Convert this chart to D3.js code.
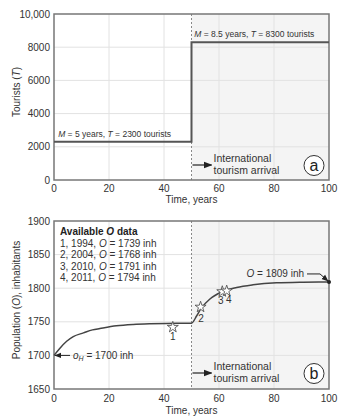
<!DOCTYPE html>
<html>
<head>
<meta charset="utf-8">
<script src="https://cdn.jsdelivr.net/npm/d3@7"></script>
<style>
  body { margin: 0; background: #fff; }
  svg { display: block; font-family: "Liberation Sans", Arial, sans-serif; }
</style>
</head>
<body>
<div id="chart"></div>
<script>
// panel (a): tourists
const tourTime = [0, 50, 50, 100];
const tourValue = [2300, 2300, 8300, 8300];
const tourTicks = [0, 2000, 4000, 6000, 8000, 10000];

// panel (b): population curve
const popTime = [0, 2, 4.6, 7, 10.7, 14, 16.7, 22.7, 28.8, 35, 40.9, 50, 51.9, 53.5, 56.7, 60.7, 66.4, 72.4, 80.9, 90.6, 100];
const popValue = [1700, 1710, 1721, 1728, 1733.5, 1738, 1740, 1744, 1746, 1747, 1747.5, 1748, 1759, 1770, 1784, 1794, 1801, 1805, 1808, 1809, 1809.3];
const popTicks = [1650, 1700, 1750, 1800, 1850, 1900];

// observed O data (stars)
const obsTime = [43.2, 53.3, 61.2, 62.8];
const obsValue = [1742, 1772, 1795, 1796];
const obsLabel = ['1', '2', '3', '4'];
const legendRows = [
  ['1, 1994, ', '1739'],
  ['2, 2004, ', '1768'],
  ['3, 2010, ', '1791'],
  ['4, 2011, ', '1794']
];

const xTicks = [0, 20, 40, 60, 80, 100];
const arrival = 50;

const W = 338, H = 416;
const textCol = '#333', gridCol = '#e2e2e2', frameCol = '#777', lineCol = '#444';

const svg = d3.select('#chart').append('svg')
  .attr('width', W).attr('height', H);

const defs = svg.append('defs');
defs.append('marker')
  .attr('id', 'arr')
  .attr('viewBox', '0 0 10 10')
  .attr('refX', 9).attr('refY', 5)
  .attr('markerWidth', 7).attr('markerHeight', 7)
  .attr('orient', 'auto-start-reverse')
  .append('path')
  .attr('d', 'M0,1 L10,5 L0,9 z')
  .attr('fill', '#222');

const x = d3.scaleLinear().domain([0, 100]).range([54, 329]);

function panel(opts) {
  const y = opts.y;
  const g = svg.append('g');
  const [y0, y1] = y.range();

  // shaded area after arrival
  g.append('rect')
    .attr('x', x(arrival)).attr('y', y1)
    .attr('width', x(100) - x(arrival)).attr('height', y0 - y1)
    .attr('fill', '#f4f4f4');

  // grid
  g.selectAll('.gx').data(xTicks.slice(1, -1)).join('line')
    .attr('x1', d => x(d)).attr('x2', d => x(d))
    .attr('y1', y1).attr('y2', y0)
    .attr('stroke', gridCol).attr('stroke-width', 1);
  g.selectAll('.gy').data(opts.ticks.slice(1, -1)).join('line')
    .attr('x1', x(0)).attr('x2', x(100))
    .attr('y1', d => y(d)).attr('y2', d => y(d))
    .attr('stroke', gridCol).attr('stroke-width', 1);

  // dashed arrival line
  g.append('line')
    .attr('x1', x(arrival)).attr('x2', x(arrival))
    .attr('y1', y1).attr('y2', y0)
    .attr('stroke', '#888').attr('stroke-dasharray', '2,2');

  // frame
  g.append('rect')
    .attr('x', x(0)).attr('y', y1)
    .attr('width', x(100) - x(0)).attr('height', y0 - y1)
    .attr('fill', 'none').attr('stroke', frameCol).attr('stroke-width', 1.5);

  // tick labels
  g.selectAll('.tx').data(xTicks).join('text')
    .attr('x', d => x(d)).attr('y', y0 + opts.xLabDy)
    .attr('text-anchor', 'middle').attr('font-size', 10).attr('fill', textCol)
    .text(d => d);
  g.selectAll('.ty').data(opts.ticks).join('text')
    .attr('x', x(0) - 4).attr('y', d => y(d) + 3.5)
    .attr('text-anchor', 'end').attr('font-size', 10).attr('fill', textCol)
    .text(opts.fmt);

  // axis titles
  g.append('text')
    .attr('x', (x(0) + x(100)) / 2).attr('y', opts.xTitleY)
    .attr('text-anchor', 'middle').attr('font-size', 10).attr('fill', textCol)
    .text('Time, years');
  const yt = g.append('text')
    .attr('transform', `translate(20,${opts.yTitleC}) rotate(-90)`)
    .attr('text-anchor', 'middle').attr('font-size', 10).attr('fill', textCol);
  opts.yTitle(yt);

  // arrival annotation
  const ay = opts.arrY;
  g.append('line')
    .attr('x1', x(arrival) + 1).attr('x2', x(arrival) + 20)
    .attr('y1', ay).attr('y2', ay)
    .attr('stroke', '#222').attr('stroke-width', 1.2)
    .attr('marker-end', 'url(#arr)');
  const at = g.append('text').attr('font-size', 10.5).attr('fill', textCol);
  at.append('tspan').attr('x', x(arrival) + 22).attr('y', ay - 3).text('International');
  at.append('tspan').attr('x', x(arrival) + 22).attr('y', ay + 9).text('tourism arrival');

  // panel letter
  g.append('circle')
    .attr('cx', 314).attr('cy', ay + 0.5).attr('r', 10)
    .attr('fill', '#fff').attr('stroke', '#333').attr('stroke-width', 1);
  g.append('text')
    .attr('x', 314).attr('y', ay + 6)
    .attr('text-anchor', 'middle').attr('font-size', 16).attr('fill', '#222')
    .text(opts.letter);

  return g;
}

// ---- panel a ----
const ya = d3.scaleLinear().domain([0, 10000]).range([180, 14]);
const ga = panel({
  y: ya, ticks: tourTicks, fmt: d => d === 10000 ? '10,000' : d,
  xLabDy: 12, xTitleY: 203, yTitleC: 92, arrY: 165, letter: 'a',
  yTitle: t => { t.append('tspan').text('Tourists ('); t.append('tspan').attr('font-style', 'italic').text('T'); t.append('tspan').text(')'); }
});

const lineA = d3.line().x(d => x(d[0])).y(d => ya(d[1]));
ga.append('path')
  .datum(d3.zip(tourTime, tourValue))
  .attr('d', lineA)
  .attr('fill', 'none').attr('stroke', '#555').attr('stroke-width', 2);

function mtLabel(g, px, py, m, t) {
  const tx = g.append('text').attr('x', px).attr('y', py).attr('font-size', 8.5).attr('fill', textCol);
  tx.append('tspan').attr('font-style', 'italic').text('M');
  tx.append('tspan').text(` = ${m} years, `);
  tx.append('tspan').attr('font-style', 'italic').text('T');
  tx.append('tspan').text(` = ${t} tourists`);
}
mtLabel(ga, x(1.5), ya(tourValue[0]) - 4.5, 5, tourValue[0]);
mtLabel(ga, x(51), ya(tourValue[2]) - 5, 8.5, tourValue[2]);

// ---- panel b ----
const yb = d3.scaleLinear().domain([1650, 1900]).range([389, 221]);
const gb = panel({
  y: yb, ticks: popTicks, fmt: d => d,
  xLabDy: 13, xTitleY: 414, yTitleC: 300, arrY: 373, letter: 'b',
  yTitle: t => { t.append('tspan').text('Population ('); t.append('tspan').attr('font-style', 'italic').text('O'); t.append('tspan').text('), inhabitants'); }
});

const lineB = d3.line().x(d => x(d[0])).y(d => yb(d[1])).curve(d3.curveMonotoneX);
gb.append('path')
  .datum(d3.zip(popTime, popValue))
  .attr('d', lineB)
  .attr('fill', 'none').attr('stroke', lineCol).attr('stroke-width', 1.5);

// end dot
const last = popTime.length - 1;
gb.append('circle')
  .attr('cx', x(popTime[last])).attr('cy', yb(popValue[last])).attr('r', 2)
  .attr('fill', '#222');

// O = 1809 annotation
const ex = x(popTime[last]), ey = yb(popValue[last]);
gb.append('path')
  .attr('d', `M${ex - 22},${ey - 8} L${ex - 9},${ey - 8} L${ex - 1},${ey - 1}`)
  .attr('fill', 'none').attr('stroke', '#222').attr('stroke-width', 1)
  .attr('marker-end', 'url(#arr)');
const et = gb.append('text').attr('x', ex - 25).attr('y', ey - 5)
  .attr('text-anchor', 'end').attr('font-size', 10).attr('fill', textCol);
et.append('tspan').attr('font-style', 'italic').text('O');
et.append('tspan').text(' = 1809 inh');

// oH annotation
const sx = x(popTime[0]), sy = yb(popValue[0]);
gb.append('line')
  .attr('x1', sx + 16).attr('x2', sx + 1).attr('y1', sy).attr('y2', sy)
  .attr('stroke', '#222').attr('stroke-width', 1)
  .attr('marker-end', 'url(#arr)');
const ot = gb.append('text').attr('x', sx + 19).attr('y', sy + 3.5)
  .attr('font-size', 10).attr('fill', textCol);
ot.append('tspan').attr('font-style', 'italic').text('o');
ot.append('tspan').attr('font-style', 'italic').attr('font-size', 7).attr('dy', 2.5).text('H');
ot.append('tspan').attr('dy', -2.5).text(' = 1700 inh');

// stars
const star = d3.symbol().type(d3.symbolStar).size(38);
const obs = d3.zip(obsTime, obsValue, obsLabel);
gb.selectAll('.star').data(obs).join('path')
  .attr('transform', d => `translate(${x(d[0])},${yb(d[1])})`)
  .attr('d', star)
  .attr('fill', '#fff').attr('stroke', '#555').attr('stroke-width', 0.9);
const labDx = [0, 0.5, -1.5, 2];
const labDy = [12.5, 15, 12.5, 12.5];
gb.selectAll('.slab').data(obs).join('text')
  .attr('x', (d, i) => x(d[0]) + labDx[i]).attr('y', (d, i) => yb(d[1]) + labDy[i])
  .attr('text-anchor', 'middle').attr('font-size', 10).attr('fill', textCol)
  .text(d => d[2]);

// legend
const lg = gb.append('text').attr('font-size', 10).attr('fill', '#222');
const lt = lg.append('tspan').attr('x', 60).attr('y', 235).attr('font-weight', 'bold');
lt.text('Available ');
lg.append('tspan').attr('font-weight', 'bold').attr('font-style', 'italic').text('O');
lg.append('tspan').attr('font-weight', 'bold').text(' data');
legendRows.forEach((r, i) => {
  const yy = 246.5 + i * 11.5;
  lg.append('tspan').attr('x', 60).attr('y', yy).attr('fill', textCol).text(r[0]);
  lg.append('tspan').attr('font-style', 'italic').attr('fill', textCol).text('O');
  lg.append('tspan').attr('fill', textCol).text(` = ${r[1]} inh`);
});
</script>
</body>
</html>
